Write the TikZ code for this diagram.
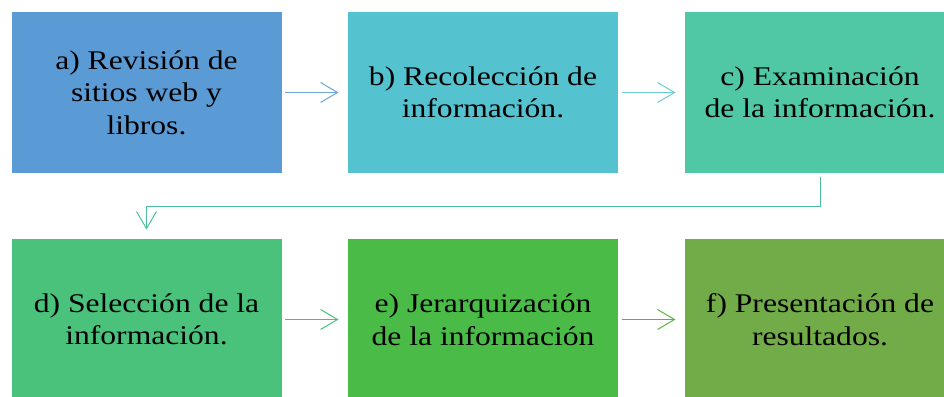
\documentclass[tikz,border=0pt]{standalone}
\usepackage{fontspec}
\setmainfont{Liberation Serif}[FakeStretch=1.17]
\usetikzlibrary{arrows.meta}

\definecolor{stepA}{HTML}{5B9BD5}
\definecolor{stepB}{HTML}{55C2CF}
\definecolor{stepC}{HTML}{50C8A6}
\definecolor{stepD}{HTML}{4BC27C}
\definecolor{stepE}{HTML}{4BBB48}
\definecolor{stepF}{HTML}{71AC48}

\begin{document}
\begin{tikzpicture}[x=1pt, y=-1pt, line width=1pt]
    \tikzset{stepbox/.style={rectangle, minimum width=270pt, minimum height=161pt, inner sep=0pt,
                             align=center, text=black, font=\rmfamily\fontsize{27}{32.5}\selectfont},
             flow/.style={-{Straight Barb[length=17pt, width=20pt, line width=1pt]}, shorten <=3pt, shorten >=9pt}};
    \useasboundingbox (0, 0) rectangle (944, 396);
    \clip (0, 0) rectangle (944, 396);
    % upper row
    \node[stepbox, fill=stepA] (rev) at (146.5, 92.5) {a) Revisión de\\sitios web y\\libros.};
    \node[stepbox, fill=stepB] (rec) at (483, 92.5) {b) Recolección de\\información.};
    \node[stepbox, fill=stepC] (exa) at (820, 92.5) {c) Examinación\\de la información.};
    % lower row
    \node[stepbox, fill=stepD] (sel) at (146.5, 319.5) {d) Selección de la\\información.};
    \node[stepbox, fill=stepE] (jer) at (483, 319.5) {e) Jerarquización\\de la información};
    \node[stepbox, fill=stepF] (pre) at (820, 319.5) {f) Presentación de\\resultados.};
    \coordinate (bend) at (0, 206);
    \draw[flow, color=stepA!90!white] (rev) -- (rec);
    \draw[flow, color=stepB!85!white] (rec) -- (exa);
    \draw[flow, color=stepC!95!black] (exa.south) -- (exa.south |- bend) -- (sel.north |- bend) -- (sel.north);
    \draw[flow, color=stepD!90!stepE] (sel) -- (jer);
    \draw[flow, color=stepE!60!stepF] (jer) -- (pre);
\end{tikzpicture}
\end{document}
